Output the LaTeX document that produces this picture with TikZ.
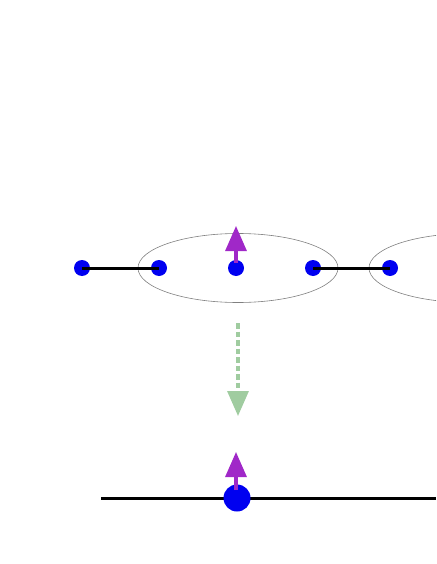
\documentclass[tikz,border=0pt]{standalone}
\usetikzlibrary{arrows.meta}
\definecolor{dotblue}{RGB}{0,0,240}
\definecolor{spinpurple}{RGB}{160,40,200}
\definecolor{mapgreen}{RGB}{160,204,160}
\tikzset{
  dot/.style={circle,fill=dotblue,inner sep=0pt,minimum size=16pt},
  bigdot/.style={circle,fill=dotblue,inner sep=0pt,minimum size=27pt},
  bond/.style={line width=3pt,black},
  block/.style={draw=gray,line width=0.6pt},
  spin/.style={line width=3.2pt,spinpurple,-{Triangle[length=25pt,width=21pt]}},
  flow/.style={line width=3.2pt,mapgreen,dash pattern=on 5.5pt off 3pt,-{Triangle[length=25pt,width=21pt]}},
}
\begin{document}
\begin{tikzpicture}[x=1pt,y=-1pt]
\useasboundingbox (0,0) rectangle (436,564);
\clip (0,0) rectangle (436,564);
\draw[block] (238,268) ellipse [x radius=100, y radius=34.5];
\draw[block] (469,268) ellipse [x radius=100, y radius=34.5];
\node[dot] (a) at (82,268) {};
\node[dot] (b) at (159,268) {};
\node[dot] (c) at (236,268) {};
\node[dot] (d) at (313,268) {};
\node[dot] (e) at (390,268) {};
\draw[bond] (a.center) -- (b.center);
\draw[bond] (d.center) -- (e.center);
\coordinate (ctop) at (236,263);
\coordinate (ctip) at (236,226);
\draw[spin] (ctop) -- (ctip);
\coordinate (gs) at (238,323);
\coordinate (ge) at (238,416);
\draw[flow] (gs) -- (ge);
\coordinate (l0) at (101,498);
\coordinate (l1) at (436,498);
\draw[bond] (l0) -- (l1);
\node[bigdot] (m) at (237,498) {};
\coordinate (mtop) at (236,490);
\coordinate (mtip) at (236,452);
\draw[spin] (mtop) -- (mtip);
\end{tikzpicture}
\end{document}
